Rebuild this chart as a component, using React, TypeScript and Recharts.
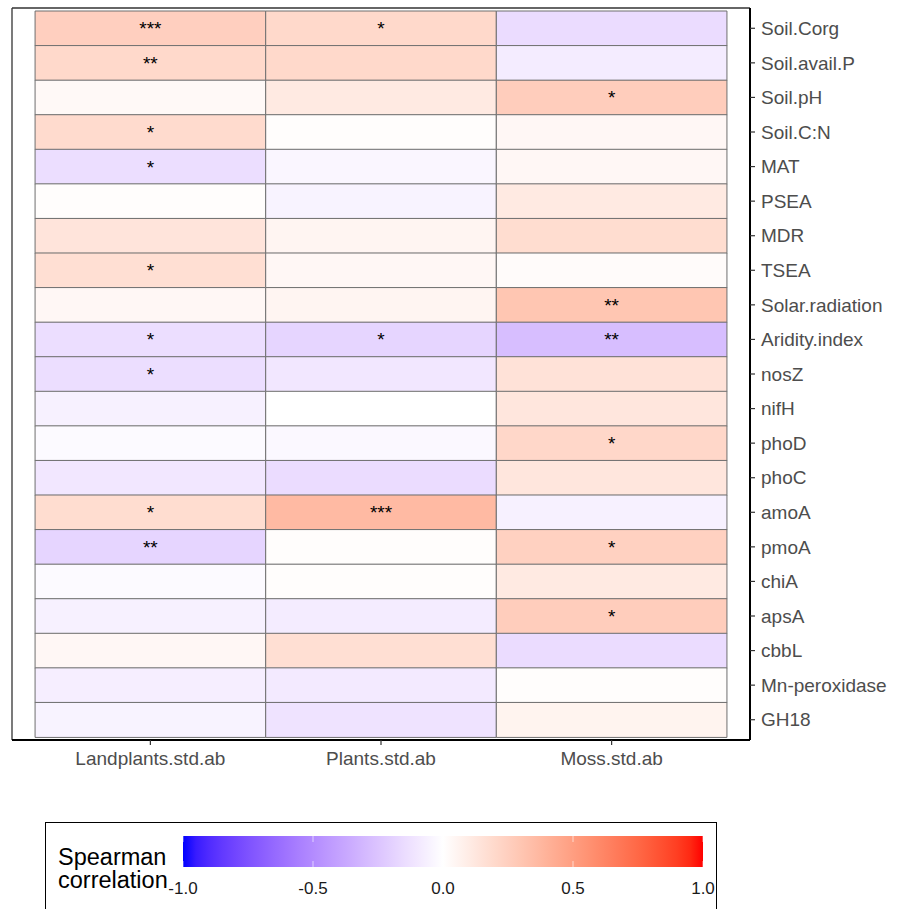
import React from 'react';
import * as R from 'recharts';
import { BarChart, Bar, XAxis, YAxis, Cell, LabelList } from 'recharts';

const rows = ['Soil.Corg', 'Soil.avail.P', 'Soil.pH', 'Soil.C:N', 'MAT', 'PSEA', 'MDR', 'TSEA', 'Solar.radiation', 'Aridity.index', 'nosZ', 'nifH', 'phoD', 'phoC', 'amoA', 'pmoA', 'chiA', 'apsA', 'cbbL', 'Mn-peroxidase', 'GH18'];
const columns = ['Landplants.std.ab', 'Plants.std.ab', 'Moss.std.ab'];

const landplantsRho = [0.25, 0.2, 0.03, 0.19, -0.14, 0.01, 0.14, 0.17, 0.04, -0.14, -0.14, -0.06, -0.02, -0.1, 0.18, -0.18, -0.02, -0.06, 0.04, -0.07, -0.05];
const plantsRho = [0.2, 0.2, 0.11, 0.01, -0.04, -0.05, 0.05, 0.04, 0.05, -0.18, -0.1, 0.0, -0.03, -0.15, 0.36, 0.01, 0.01, -0.08, 0.17, -0.09, -0.12];
const mossRho = [-0.15, -0.08, 0.26, 0.04, 0.04, 0.11, 0.18, 0.02, 0.3, -0.28, 0.15, 0.13, 0.21, 0.13, -0.06, 0.24, 0.11, 0.26, -0.15, 0.01, 0.06];

const landplantsSig = ['***', '**', '', '*', '*', '', '', '*', '', '*', '*', '', '', '', '*', '**', '', '', '', '', ''];
const plantsSig = ['*', '', '', '', '', '', '', '', '', '*', '', '', '', '', '***', '', '', '', '', '', ''];
const mossSig = ['', '', '*', '', '', '', '', '', '**', '**', '', '', '*', '', '', '*', '', '*', '', '', ''];

const legendTicks = [-1, -0.5, 0, 0.5, 1];
const legendTitle = ['Spearman', 'correlation'];

const FONT = '"Liberation Sans", Arial, sans-serif';

// ---- Lab colour interpolation (like ggplot2 scale_fill_gradient2) ----
type Lab = [number, number, number];
function hexToRgb(h: string): [number, number, number] {
  const n = parseInt(h.slice(1), 16);
  return [(n >> 16) & 255, (n >> 8) & 255, n & 255];
}
function toLab(hex: string): Lab {
  const [r0, g0, b0] = hexToRgb(hex).map((c) => {
    const v = c / 255;
    return v <= 0.04045 ? v / 12.92 : Math.pow((v + 0.055) / 1.055, 2.4);
  });
  const X = (0.4124564 * r0 + 0.3575761 * g0 + 0.1804375 * b0) / 0.95047;
  const Y = 0.2126729 * r0 + 0.7151522 * g0 + 0.072175 * b0;
  const Z = (0.0193339 * r0 + 0.119192 * g0 + 0.9503041 * b0) / 1.08883;
  const f = (t: number) => (t > 0.008856 ? Math.cbrt(t) : 7.787 * t + 16 / 116);
  const fx = f(X), fy = f(Y), fz = f(Z);
  return [116 * fy - 16, 500 * (fx - fy), 200 * (fy - fz)];
}
function labToHex([L, a, b]: Lab): string {
  const fy = (L + 16) / 116;
  const fx = fy + a / 500;
  const fz = fy - b / 200;
  const inv = (f: number) => (f * f * f > 0.008856 ? f * f * f : (f - 16 / 116) / 7.787);
  const X = inv(fx) * 0.95047, Y = inv(fy), Z = inv(fz) * 1.08883;
  const lin = [
    3.2404542 * X - 1.5371385 * Y - 0.4985314 * Z,
    -0.969266 * X + 1.8760108 * Y + 0.041556 * Z,
    0.0556434 * X - 0.2040259 * Y + 1.0572252 * Z,
  ];
  return (
    '#' +
    lin
      .map((c) => {
        const v = c <= 0.0031308 ? 12.92 * c : 1.055 * Math.pow(c, 1 / 2.4) - 0.055;
        const n = Math.round(Math.min(1, Math.max(0, v)) * 255);
        return n.toString(16).padStart(2, '0');
      })
      .join('')
  );
}
const LOW = toLab('#0000FF');
const MID = toLab('#FFFFFF');
const HIGH = toLab('#FF0000');
function fillFor(v: number): string {
  const t = Math.max(-1, Math.min(1, v));
  const end = t < 0 ? LOW : HIGH;
  const k = Math.abs(t);
  return labToHex([0, 1, 2].map((i) => MID[i] + (end[i] - MID[i]) * k) as Lab);
}

const data = rows.map((row, i) => ({
  row,
  land: 1,
  plants: 1,
  moss: 1,
  landSig: landplantsSig[i],
  plantsSig: plantsSig[i],
  mossSig: mossSig[i],
}));

const series = [
  { key: 'land', sig: 'landSig', values: landplantsRho },
  { key: 'plants', sig: 'plantsSig', values: plantsRho },
  { key: 'moss', sig: 'mossSig', values: mossRho },
];

const CHART_W = 901;
const CHART_H = 800;

// Thin left/top panel border
function PanelFrame() {
  const anyR = R as any;
  let x = 0, y = 0, h = 0, w = 0;
  if (anyR.usePlotArea) {
    const pa = anyR.usePlotArea();
    if (pa) { x = pa.x; y = pa.y; w = pa.width; h = pa.height; }
  } else if (anyR.useOffset) {
    const off = anyR.useOffset();
    if (off) { x = off.left; y = off.top; w = CHART_W - off.left - off.right; h = CHART_H - off.top - off.bottom; }
  }
  if (!w || !h) return null;
  return (
    <g>
      <line x1={x} x2={x + w} y1={y} y2={y} stroke="#333" strokeWidth={1.3} />
      <line x1={x} x2={x} y1={y} y2={y + h} stroke="#333" strokeWidth={1.3} />
    </g>
  );
}

function ColorLegend() {
  const barX = 183, barW = 520, barY = 836, barH = 31;
  const stops = Array.from({ length: 41 }, (_, i) => -1 + i * 0.05);
  const xOf = (v: number) => barX + ((v + 1) / 2) * barW;
  return (
    <svg width={901} height={909} style={{ position: 'absolute', left: 0, top: 0, pointerEvents: 'none' }}>
      <defs>
        <linearGradient id="rhoGrad" x1="0" x2="1" y1="0" y2="0">
          {stops.map((s) => (
            <stop key={s} offset={`${((s + 1) / 2) * 100}%`} stopColor={fillFor(s)} />
          ))}
        </linearGradient>
      </defs>
      <rect x={45.5} y={822.5} width={671} height={120} fill="#fff" stroke="#000" strokeWidth={1} />
      <rect x={barX} y={barY} width={barW} height={barH} fill="url(#rhoGrad)" />
      {legendTicks.map((t) => (
        <g key={t}>
          <line x1={xOf(t)} x2={xOf(t)} y1={barY} y2={barY + 6} stroke="#fff" strokeOpacity={0.6} />
          <line x1={xOf(t)} x2={xOf(t)} y1={barY + barH - 6} y2={barY + barH} stroke="#fff" strokeOpacity={0.6} />
        </g>
      ))}
      <text x={58} y={865} fontFamily={FONT} fontSize={23.5} fill="#000">{legendTitle[0]}</text>
      <text x={58} y={888} fontFamily={FONT} fontSize={23.5} fill="#000">{legendTitle[1]}</text>
      {legendTicks.map((t) => (
        <text key={t} x={xOf(t)} y={894} textAnchor="middle" fontFamily={FONT} fontSize={17} fill="#1a1a1a">
          {t.toFixed(1)}
        </text>
      ))}
    </svg>
  );
}

export default function App() {
  return (
    <div style={{ position: 'absolute', left: 0, top: 0, width: 901, height: 909, background: '#fff' }}>
      <BarChart
        layout="vertical"
        width={CHART_W}
        height={CHART_H}
        data={data}
        margin={{ top: 8, right: 0, bottom: 0, left: 12 }}
        barCategoryGap={0}
        barGap={0}
      >
        <XAxis
          type="number"
          domain={[-0.1, 3.1]}
          ticks={[0.5, 1.5, 2.5]}
          interval={0}
          tickFormatter={(v: number) => columns[Math.floor(v)]}
          height={60}
          tickSize={5}
          tickMargin={7}
          axisLine={{ stroke: '#000', strokeWidth: 2 }}
          tickLine={{ stroke: '#333', strokeWidth: 1.2 }}
          tick={{ fill: '#4d4d4d', fontSize: 19, fontFamily: FONT }}
        />
        <YAxis
          type="category"
          dataKey="row"
          orientation="right"
          width={151}
          interval={0}
          padding={{ top: 3, bottom: 3 }}
          tickSize={5}
          tickMargin={6}
          axisLine={{ stroke: '#000', strokeWidth: 2 }}
          tickLine={{ stroke: '#333', strokeWidth: 1.2 }}
          tick={{ fill: '#4d4d4d', fontSize: 19, fontFamily: FONT }}
        />
        {series.map((s) => (
          <Bar key={s.key} dataKey={s.key} stackId="tiles" isAnimationActive={false}>
            {s.values.map((v, i) => (
              <Cell key={i} fill={fillFor(v)} stroke="#6f6f6f" strokeWidth={1} />
            ))}
            <LabelList dataKey={s.sig} position="center" fill="#000" fontSize={19} fontFamily={FONT} />
          </Bar>
        ))}
        <PanelFrame />
      </BarChart>
      <ColorLegend />
    </div>
  );
}
